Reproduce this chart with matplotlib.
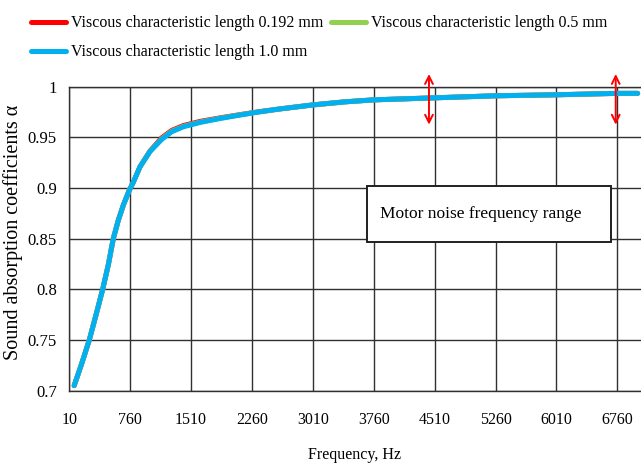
import matplotlib
matplotlib.use("Agg")
from matplotlib import pyplot as plt
from matplotlib.patches import Rectangle

plt.rcParams['font.family'] = ['Liberation Serif', 'DejaVu Serif']

# частота, Гц
freq = [70, 160, 256, 340, 421, 490, 552, 613, 675, 745, 800, 881, 1004, 1148, 1271,
        1414, 1620, 1866, 2112, 2338, 2600, 3010, 3400, 3760, 4140, 4510, 5260, 6010,
        6760, 7010]
# коэффициенты поглощения, длина 1.0 мм
alpha_10 = [0.705, 0.726, 0.750, 0.775, 0.800, 0.824, 0.850, 0.868, 0.883, 0.897, 0.906,
            0.921, 0.936, 0.948, 0.9555, 0.9604, 0.9647, 0.9686, 0.972, 0.975, 0.978, 0.982,
            0.985, 0.987, 0.988, 0.989, 0.991, 0.992, 0.9934, 0.9934]
# длина 0.192 мм - чуть выше на изгибе
alpha_0192 = [0.705, 0.726, 0.750, 0.775, 0.800, 0.824, 0.850, 0.868, 0.883, 0.897, 0.906,
              0.921, 0.9365, 0.9495, 0.9568, 0.9616, 0.9657, 0.9692, 0.9724, 0.9752, 0.978, 0.982,
              0.985, 0.987, 0.988, 0.989, 0.991, 0.992, 0.9934, 0.9934]
# длина 0.5 мм
alpha_05 = [0.705, 0.726, 0.750, 0.775, 0.800, 0.824, 0.850, 0.868, 0.883, 0.897, 0.906,
            0.921, 0.9362, 0.9485, 0.956, 0.9608, 0.965, 0.9688, 0.9722, 0.975, 0.978, 0.982,
            0.985, 0.987, 0.988, 0.989, 0.991, 0.992, 0.9934, 0.9934]

xticks = [10, 760, 1510, 2260, 3010, 3760, 4510, 5260, 6010, 6760]
yticks = [0.7, 0.75, 0.8, 0.85, 0.9, 0.95, 1.0]
ytick_labels = ['0.7', '0.75', '0.8', '0.85', '0.9', '0.95', '1']

# стрелки диапазона шума мотора
arrow_x = [4440, 6740]
arrow_lo, arrow_hi = 0.9625, 1.0125

fig = plt.figure(figsize=(6.41, 4.66), dpi=100)
ax = fig.add_axes([0.1081, 0.1616, 0.950, 0.6524])

l1, = ax.plot(freq, alpha_0192, color='#ff0000', lw=3.6, solid_capstyle='round',
              label='Viscous characteristic length 0.192 mm')
l2, = ax.plot(freq, alpha_05, color='#92d050', lw=3.6, solid_capstyle='round',
              label='Viscous characteristic length 0.5 mm')
l3, = ax.plot(freq, alpha_10, color='#00b0f0', lw=3.6, solid_capstyle='round',
              label='Viscous characteristic length 1.0 mm')

ax.set_xlim(10, 7510)
ax.set_ylim(0.7, 1.0)
ax.set_xticks(xticks)
ax.set_xticklabels([str(v) for v in xticks], fontsize=11.5)
ax.set_yticks(yticks)
ax.set_yticklabels(ytick_labels, fontsize=12)
ax.tick_params(length=0)
ax.tick_params(axis='x', pad=15)
ax.tick_params(axis='y', pad=9)
ax.grid(True, color='#303030', lw=1.0)
ax.set_axisbelow(True)
for s in ['left', 'bottom', 'top']:
    ax.spines[s].set_color('#303030')
    ax.spines[s].set_linewidth(1.0)
ax.spines['right'].set_visible(False)

ax.set_xlabel('Frequency, Hz', fontsize=11.5)
ax.xaxis.set_label_coords(0.469, -0.185)
ax.set_ylabel('Sound absorption coefficients α', fontsize=14.5)
ax.yaxis.set_label_coords(-0.076, 0.522)

for x in arrow_x:
    ax.annotate('', xy=(x, arrow_hi), xytext=(x, arrow_lo), annotation_clip=False,
                arrowprops=dict(arrowstyle='<->', color='red', lw=1.4,
                                mutation_scale=14, shrinkA=0, shrinkB=0))

# рамка с подписью
ax.add_patch(Rectangle((3676, 0.8468), 6681 - 3676, 0.9021 - 0.8468,
                       fc='white', ec='#202020', lw=1.4, zorder=3))
ax.text(3836, 0.8745, 'Motor noise frequency range', fontsize=12.5,
        ha='left', va='center', zorder=4)

fig.legend(handles=[l1, l3, l2], loc='upper left', bbox_to_anchor=(0.036, 0.984), ncol=2,
           frameon=False, fontsize=11.5, handlelength=2.2, handletextpad=0.3,
           columnspacing=0.5, labelspacing=0.8, borderpad=0.0)

fig.savefig('out.png', dpi=100)
